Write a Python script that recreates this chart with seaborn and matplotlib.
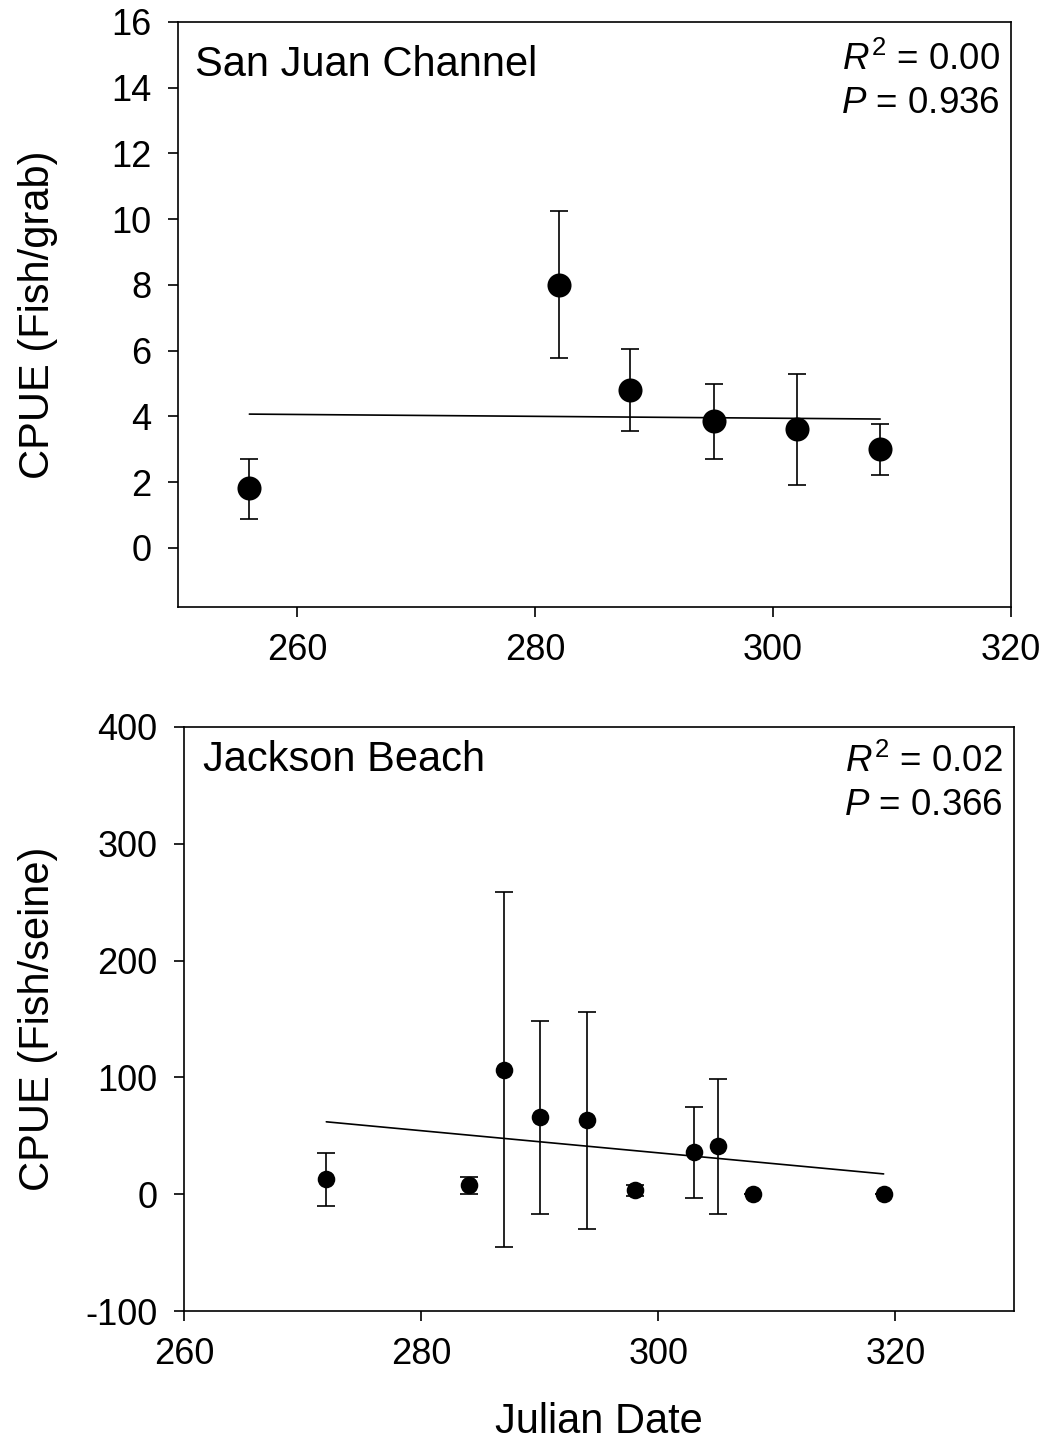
import numpy as np
import pandas as pd
import matplotlib
matplotlib.use("Agg")
import matplotlib.pyplot as plt
import seaborn as sns

# ---- data: San Juan Channel ----
sj_date = [256, 282, 288, 295, 302, 309]
sj_cpue = [1.81, 8.0, 4.80, 3.87, 3.61, 3.01]
sj_upper = [2.70, 10.24, 6.04, 4.99, 5.29, 3.78]
sj_lower = [0.88, 5.77, 3.56, 2.71, 1.91, 2.22]
sj_fit_x = [256, 309]
sj_fit_y = [4.07, 3.92]

# ---- data: Jackson Beach ----
jb_date = [272, 284, 287, 290, 294, 298, 303, 305, 308, 319]
jb_cpue = [12.9, 7.5, 106.7, 65.8, 63.5, 3.4, 36.4, 40.9, 0.0, 0.0]
jb_upper = [35.5, 14.9, 258.8, 148.4, 156.2, 8.0, 74.4, 99.0, 0.0, 0.0]
jb_lower = [-9.7, -0.2, -45.1, -17.1, -30.0, -1.6, -3.1, -17.1, 0.0, 0.0]
jb_fit_x = [272, 319]
jb_fit_y = [62.0, 17.4]

sns.set_style("ticks")
plt.rcParams['font.family'] = ['Liberation Sans', 'DejaVu Sans']
plt.rcParams['mathtext.fontset'] = 'custom'
plt.rcParams['mathtext.rm'] = 'Liberation Sans'
plt.rcParams['mathtext.it'] = 'Liberation Sans:italic'
plt.rcParams['axes.unicode_minus'] = False
plt.rcParams['text.color'] = 'black'
plt.rcParams['axes.labelcolor'] = 'black'
plt.rcParams['xtick.color'] = 'black'
plt.rcParams['ytick.color'] = 'black'

fig = plt.figure(figsize=(10.48, 14.45), dpi=100)
ax1 = fig.add_axes([0.1698, 0.5799, 0.7950, 0.4049])
ax2 = fig.add_axes([0.1756, 0.0927, 0.7920, 0.4042])

TICK_FS = 26
LAB_FS = 30
SITE_FS = 30
STAT_FS = 26.5


def panel(ax, x, y, up, lo, fx, fy, msize, cap):
    df = pd.DataFrame({"x": x, "y": y})
    yerr = [np.array(y) - np.array(lo), np.array(up) - np.array(y)]
    ax.errorbar(x, y, yerr=yerr, fmt="none", ecolor="black",
                elinewidth=1.2, capsize=cap, capthick=1.2, zorder=2)
    sns.lineplot(x=fx, y=fy, ax=ax, color="black", linewidth=1.2, zorder=3)
    sns.scatterplot(data=df, x="x", y="y", ax=ax, color="black", s=msize,
                    edgecolor="black", linewidth=0, zorder=4)
    for sp in ax.spines.values():
        sp.set_visible(True)
        sp.set_linewidth(1.2)
        sp.set_color("black")
    ax.tick_params(axis="both", direction="out", length=7, width=1.2,
                   labelsize=TICK_FS, pad=12, colors="black")
    ax.set_xlabel("")
    ax.set_ylabel("")


panel(ax1, sj_date, sj_cpue, sj_upper, sj_lower, sj_fit_x, sj_fit_y, 300, 6.5)
ax1.set_xlim(250, 320)
ax1.set_ylim(-1.8, 16)
ax1.set_xticks([260, 280, 300, 320])
ax1.set_yticks(list(range(0, 17, 2)))
ax1.set_ylabel("CPUE (Fish/grab)", fontsize=LAB_FS)
ax1.yaxis.set_label_coords(-0.144, 0.5)
ax1.text(0.02, 0.926, "San Juan Channel", transform=ax1.transAxes,
         fontsize=SITE_FS, ha="left", va="center")
ax1.text(0.987, 0.935, r"$R^2$ = 0.00", transform=ax1.transAxes,
         fontsize=STAT_FS, ha="right", va="center")
ax1.text(0.987, 0.861, r"$P$ = 0.936", transform=ax1.transAxes,
         fontsize=STAT_FS, ha="right", va="center")

panel(ax2, jb_date, jb_cpue, jb_upper, jb_lower, jb_fit_x, jb_fit_y, 160, 6.5)
ax2.set_xlim(260, 330)
ax2.set_ylim(-100, 400)
ax2.set_xticks([260, 280, 300, 320])
ax2.set_yticks(list(range(-100, 401, 100)))
ax2.set_ylabel("CPUE (Fish/seine)", fontsize=LAB_FS)
ax2.yaxis.set_label_coords(-0.152, 0.5)
ax2.set_xlabel("Julian Date", fontsize=LAB_FS)
ax2.xaxis.set_label_coords(0.5, -0.155)
ax2.text(0.023, 0.943, "Jackson Beach", transform=ax2.transAxes,
         fontsize=SITE_FS, ha="left", va="center")
ax2.text(0.987, 0.94, r"$R^2$ = 0.02", transform=ax2.transAxes,
         fontsize=STAT_FS, ha="right", va="center")
ax2.text(0.987, 0.866, r"$P$ = 0.366", transform=ax2.transAxes,
         fontsize=STAT_FS, ha="right", va="center")

fig.savefig("out.png", dpi=100, facecolor="white")
